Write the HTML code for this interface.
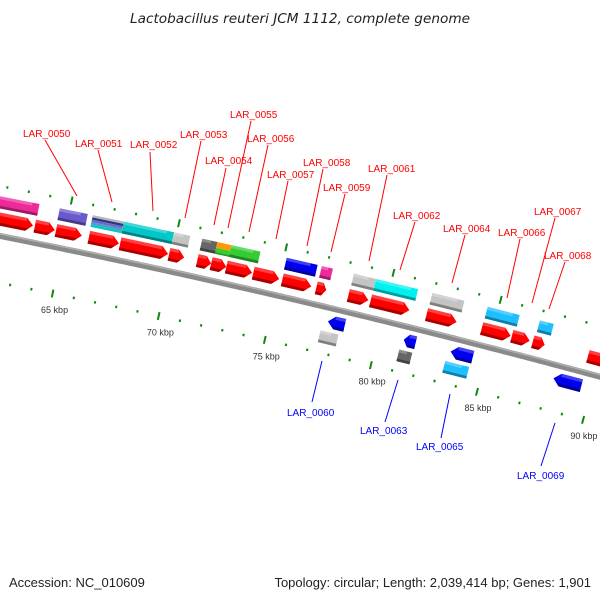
<!DOCTYPE html>
<html><head><meta charset="utf-8"><style>
body{margin:0;background:#fff;}
svg{display:block;font-family:"Liberation Sans","DejaVu Sans",sans-serif;}
</style></head><body>
<svg id="map" width="600" height="600" viewBox="0 0 600 600">
<text x="300" y="23" text-anchor="middle" font-size="13" font-style="italic" fill="#222" font-family="DejaVu Sans, sans-serif" textLength="340" lengthAdjust="spacingAndGlyphs">Lactobacillus reuteri JCM 1112, complete genome</text>
<text x="9" y="587" font-size="13" fill="#222">Accession: NC_010609</text>
<text x="591" y="587" font-size="13" fill="#222" text-anchor="end">Topology: circular; Length: 2,039,414 bp; Genes: 1,901</text>
<g id="lines" stroke-width="1">
<g stroke="#f00">
<line x1="45" y1="140" x2="77" y2="196"/><line x1="98" y1="150" x2="112" y2="202"/>
<line x1="150" y1="152" x2="153" y2="211"/><line x1="201" y1="141" x2="185" y2="218"/>
<line x1="226" y1="168" x2="214" y2="225"/><line x1="251" y1="121" x2="228" y2="228"/>
<line x1="268" y1="145" x2="249" y2="232"/><line x1="288" y1="181" x2="276" y2="239"/>
<line x1="323" y1="169" x2="307" y2="246"/><line x1="345" y1="194" x2="331" y2="252"/>
<line x1="387" y1="175" x2="369" y2="261"/><line x1="415" y1="222" x2="400" y2="270"/>
<line x1="465" y1="235" x2="452" y2="283"/><line x1="520" y1="239" x2="507" y2="298"/>
<line x1="555" y1="218" x2="532" y2="303"/><line x1="565" y1="262" x2="549" y2="309"/>
</g>
<g stroke="#00f">
<line x1="322" y1="361" x2="312" y2="402"/><line x1="398" y1="380" x2="385" y2="422"/>
<line x1="450" y1="394" x2="441" y2="438"/><line x1="555" y1="423" x2="541" y2="466"/>
</g></g>
<g font-size="10" fill="#f00">
<text x="23" y="137">LAR_0050</text>
<text x="75" y="147">LAR_0051</text>
<text x="130" y="148">LAR_0052</text>
<text x="180" y="138">LAR_0053</text>
<text x="205" y="164">LAR_0054</text>
<text x="230" y="118">LAR_0055</text>
<text x="247" y="142">LAR_0056</text>
<text x="267" y="178">LAR_0057</text>
<text x="303" y="166">LAR_0058</text>
<text x="323" y="191">LAR_0059</text>
<text x="368" y="172">LAR_0061</text>
<text x="393" y="219">LAR_0062</text>
<text x="443" y="232">LAR_0064</text>
<text x="498" y="236">LAR_0066</text>
<text x="534" y="215">LAR_0067</text>
<text x="544" y="259">LAR_0068</text>
</g>
<g font-size="10" fill="#00f">
<text x="287" y="416">LAR_0060</text>
<text x="360" y="434">LAR_0063</text>
<text x="416" y="450">LAR_0065</text>
<text x="517" y="479">LAR_0069</text>
</g>
<g id="layer"></g>
</svg>
<script>
// data (kbp)
const fwdStart=[61.5,63.58,64.57,66.11,67.57,69.86,71.18,71.83,72.54,73.8,75.16,76.75,78.25,79.29,81.91,84.49,85.9,86.88,89.46];
const fwdEnd=[63.5,64.52,65.78,67.52,69.82,70.57,71.83,72.54,73.75,75.02,76.52,77.22,79.19,81.11,83.32,85.85,86.74,87.44,90.5];
const blkStart=[61.3,64.54,66.08,67.54,69.88,71.19,71.9,72.55,75.13,76.77,78.27,79.3,81.93,84.51,86.95];
const blkEnd=[63.6,65.85,67.54,69.88,70.63,71.9,72.55,73.91,76.58,77.29,79.3,81.27,83.43,86.01,87.6];
const blkColor=["#ee2a9a","#6a5acd","multi","#00c8c8","#c4c4c4","#666666","orangegreen","#33cc33","#0000ee","#ee2a9a","#c4c4c4","#00f0f0","#c4c4c4","#1ebfff","#1ebfff"];
const revStart=[77.62,81.18,83.38,88.21];
const revEnd=[78.41,81.74,84.42,89.52];
const rblkStart=[77.39,81.09,83.25];
const rblkEnd=[78.23,81.7,84.37];
const rblkColor=["#c4c4c4","#666666","#1ebfff"];
const tickFrom=62, tickTo=91;
const majorLabels=["65 kbp","70 kbp","75 kbp","80 kbp","85 kbp","90 kbp"];
const majorKbp=[65,70,75,80,85,90];

const NS="http://www.w3.org/2000/svg";
const layer=document.getElementById('layer');
const PX=21.33, K0=62.1;
function bx(k){return PX*(k-K0);}
function by(x){return 236+0.198*x+6.1e-5*x*x;}
function ang(x){return Math.atan(0.198+1.22e-4*x);}
function pt(k,v){const x=bx(k),a=ang(x);return [x-v*Math.sin(a),by(x)+v*Math.cos(a)];}
function mk(tag,attrs,parent){const e=document.createElementNS(NS,tag);for(const k in attrs)e.setAttribute(k,attrs[k]);(parent||layer).appendChild(e);return e;}
function shade(c,f){const n=parseInt(c.slice(1),16);let r=n>>16,g=(n>>8)&255,b=n&255;r=Math.round(r*f);g=Math.round(g*f);b=Math.round(b*f);return `rgb(${r},${g},${b})`;}
function gfeat(s,e,v1,v2,name){
  const x=bx(s),a=ang(x);const y=by(x);
  const g=mk('g',{transform:`translate(${x},${y}) rotate(${a*180/Math.PI})`});
  
  
  const L=(e-s)*PX/Math.cos(a);
  return [g,L];
}
function shape(g,L,v1,v2,dir,color){
  const h=Math.min(7,L*0.4), m=(v1+v2)/2;
  let pts;
  if(dir>0)pts=[[0,v1],[L-h,v1],[L,m],[L-h,v2],[0,v2]];
  else if(dir<0)pts=[[h,v1],[L,v1],[L,v2],[h,v2],[0,m]];
  else pts=[[0,v1],[L,v1],[L,v2],[0,v2]];
  mk('polygon',{points:pts.map(p=>p.join(',')).join(' '),fill:color},g);
  const d=(v2-v1)*0.22;
  mk('polygon',{points:(dir>0?[[0,v2-d],[L-h+h*d/(v2-v1)*2,v2-d],[L-h,v2],[0,v2]]:dir<0?[[h-h*d/(v2-v1)*2,v2-d],[L,v2-d],[L,v2],[h,v2]]:[[0,v2-d],[L,v2-d],[L,v2],[0,v2]]).map(p=>p.join(',')).join(' '),fill:shade(color,0.65)},g);
  mk('rect',{x:dir<0?h:0,y:v1,width:Math.max(0,L-h),height:(v2-v1)*0.25,fill:'#fff',opacity:0.25},g);
}
let dpath='',dpath2='';
for(let x=-5;x<=605;x+=5){dpath+=(x<0?'M':'L')+x+','+by(x);}
const bb=mk('path',{d:dpath,stroke:'#8a8a8a','stroke-width':6,fill:'none'});


for(let x=-5;x<=605;x+=5){dpath2+=(x<0?'M':'L')+x+','+(by(x)-2);}
mk('path',{d:dpath2,stroke:'#b0b0b0','stroke-width':1.5,fill:'none'});
for(let k=tickFrom;k<=tickTo;k++){
  const major=k%5===0;const len=major?8:2.5;
  for(const v of [-49,46]){
    const p1=pt(k,v-len/2),p2=pt(k,v+len/2);
    const t=mk('line',{x1:p1[0],y1:p1[1],x2:p2[0],y2:p2[1],stroke:'#118811','stroke-width':2});
    
    
  }
}
majorKbp.forEach((k,i)=>{const p=pt(k,66);
  const t=mk('text',{x:p[0]+6,y:p[1],'text-anchor':'middle','font-size':9,fill:'#333'});
  t.textContent=majorLabels[i];
  
  
});
fwdStart.forEach((s,i)=>{const [g,L]=gfeat(s,fwdEnd[i],-23,-10,'forward-cds');shape(g,L,-23,-10,1,'#ff0000');});
blkStart.forEach((s,i)=>{const [g,L]=gfeat(s,blkEnd[i],-39,-27,'forward-feature');const c=blkColor[i];
  if(c==='multi'){const cols=['#b8b8b8','#333388','#6a6acd','#4aa0c0','#00c8c8'];cols.forEach((cc,j)=>mk('rect',{x:0,y:-39+j*2.4,width:L,height:2.4,fill:cc},g));}
  else if(c==='orangegreen'){mk('rect',{x:0,y:-39,width:L,height:6,fill:'#ff9900'},g);mk('rect',{x:0,y:-33,width:L,height:6,fill:'#33cc33'},g);mk('rect',{x:0,y:-28.5,width:L,height:1.5,fill:'#229922'},g);}
  else shape(g,L,-39,-27,0,c);});
revStart.forEach((s,i)=>{const [g,L]=gfeat(s,revEnd[i],7,20,'reverse-cds');shape(g,L,7,20,-1,'#0000ee');});
rblkStart.forEach((s,i)=>{const [g,L]=gfeat(s,rblkEnd[i],24,36,'reverse-feature');shape(g,L,24,36,0,rblkColor[i]);});
</script>
</body></html>
